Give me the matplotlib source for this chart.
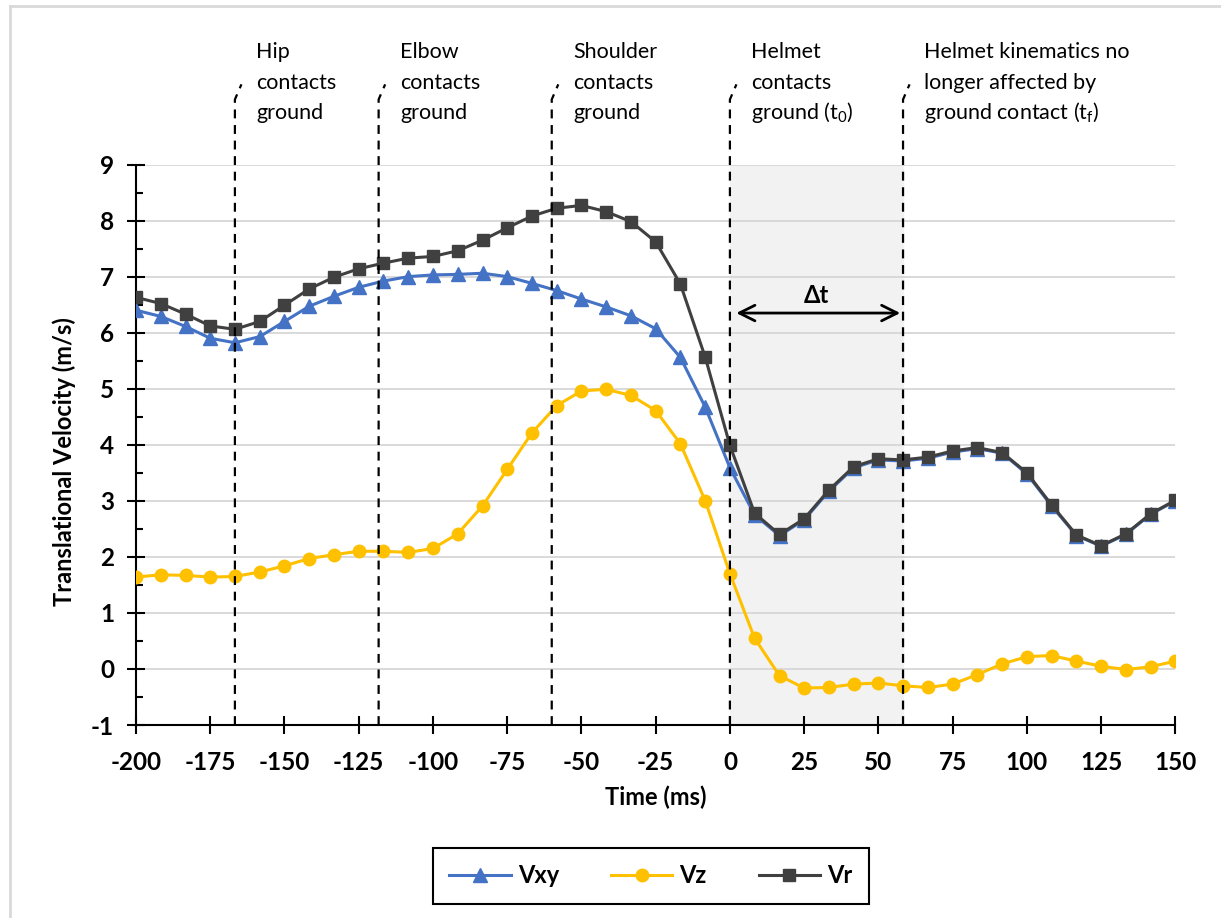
import matplotlib.pyplot as plt
from matplotlib.lines import Line2D

plt.rcParams['font.family'] = ['Lato', 'DejaVu Sans']
plt.rcParams['axes.unicode_minus'] = False
plt.rcParams['mathtext.fontset'] = 'custom'
plt.rcParams['mathtext.rm'] = 'Lato'

# time (ms), sampled at 120 Hz
time_ms = [-200, -191.7, -183.3, -175, -166.7, -158.3, -150, -141.7, -133.3, -125,
           -116.7, -108.3, -100, -91.7, -83.3, -75, -66.7, -58.3, -50, -41.7,
           -33.3, -25, -16.7, -8.3, 0, 8.3, 16.7, 25, 33.3, 41.7,
           50, 58.3, 66.7, 75, 83.3, 91.7, 100, 108.3, 116.7, 125,
           133.3, 141.7, 150]

vxy = [6.40, 6.29, 6.11, 5.90, 5.82, 5.93, 6.20, 6.47, 6.65, 6.81,
       6.92, 7.00, 7.03, 7.04, 7.06, 7.00, 6.88, 6.75, 6.60, 6.46,
       6.30, 6.07, 5.56, 4.67, 3.59, 2.75, 2.38, 2.66, 3.17, 3.59,
       3.73, 3.71, 3.76, 3.87, 3.93, 3.85, 3.48, 2.91, 2.38, 2.19,
       2.40, 2.76, 3.00]

vz = [1.64, 1.68, 1.67, 1.64, 1.65, 1.73, 1.84, 1.97, 2.04, 2.10,
      2.10, 2.08, 2.15, 2.41, 2.91, 3.56, 4.21, 4.70, 4.96, 4.99,
      4.88, 4.61, 4.02, 3.00, 1.70, 0.55, -0.12, -0.34, -0.33, -0.27,
      -0.25, -0.30, -0.33, -0.27, -0.10, 0.09, 0.22, 0.24, 0.14, 0.05,
      -0.01, 0.04, 0.14]

vr = [6.63, 6.52, 6.33, 6.12, 6.06, 6.20, 6.49, 6.78, 6.99, 7.14,
      7.24, 7.33, 7.36, 7.46, 7.65, 7.87, 8.08, 8.22, 8.27, 8.16,
      7.98, 7.62, 6.87, 5.56, 3.99, 2.78, 2.40, 2.68, 3.19, 3.61,
      3.75, 3.73, 3.78, 3.89, 3.95, 3.86, 3.50, 2.93, 2.39, 2.20,
      2.41, 2.77, 3.01]

x_ticks = [-200, -175, -150, -125, -100, -75, -50, -25, 0, 25, 50, 75, 100, 125, 150]
y_ticks = [-1, 0, 1, 2, 3, 4, 5, 6, 7, 8, 9]

# events (ms) and their labels
event_times = [-166.7, -118.3, -60, 0, 58.3]
event_labels = [
    ['Hip', 'contacts', 'ground'],
    ['Elbow', 'contacts', 'ground'],
    ['Shoulder', 'contacts', 'ground'],
    ['Helmet', 'contacts', 'ground (t$_\\mathrm{0}$)'],
    ['Helmet kinematics no', 'longer affected by', 'ground contact (t$_\\mathrm{f}$)'],
]

fig = plt.figure(figsize=(12.21, 9.18), dpi=100)
ax = fig.add_axes([0.1114, 0.2102, 0.8512, 0.6106])

# light frame around the chart (only top/left visible in the crop)
fig.add_artist(Line2D([10 / 1221, 10 / 1221], [0, 1 - 6 / 918], color='#d9d9d9', lw=2, transform=fig.transFigure))
fig.add_artist(Line2D([10 / 1221, 1], [1 - 6 / 918, 1 - 6 / 918], color='#d9d9d9', lw=2, transform=fig.transFigure))

ax.axvspan(event_times[3], event_times[4], color='#f2f2f2', zorder=0)
ax.yaxis.grid(True, color='#d9d9d9', lw=1.4, zorder=1)
ax.set_axisbelow(True)

ax.plot(time_ms, vxy, color='#4472C4', lw=2.2, marker='^', ms=10, label='Vxy', zorder=3)
ax.plot(time_ms, vz, color='#FFC000', lw=2.2, marker='o', ms=9, label='Vz', zorder=3)
ax.plot(time_ms, vr, color='#404040', lw=2.2, marker='s', ms=9, label='Vr', zorder=4)

ax.set_xlim(-200, 150)
ax.set_ylim(-1, 9)
ax.set_xticks(x_ticks, [str(v) for v in x_ticks], fontweight='bold')
ax.set_yticks(y_ticks, [str(v) for v in y_ticks], fontweight='bold')
ax.set_yticks([v + 0.5 for v in y_ticks[:-1]], minor=True)

for s in ['top', 'right']:
    ax.spines[s].set_visible(False)
for s in ['left', 'bottom']:
    ax.spines[s].set_linewidth(1.5)
    ax.spines[s].set_color('black')

ax.tick_params(axis='both', which='major', direction='inout', length=13.5, width=1.5,
               labelsize=17.5, pad=9)
ax.tick_params(axis='x', which='major', pad=12)
ax.tick_params(axis='y', which='minor', direction='in', length=5, width=1.5)

ax.set_xlabel('Time (ms)', fontsize=17, fontweight='bold', labelpad=8)
ax.set_ylabel('Translational Velocity (m/s)', fontsize=17, fontweight='bold')
ax.yaxis.set_label_coords(-0.058, 0.47)

# dashed event lines with leaders up to the labels
for t, lines in zip(event_times, event_labels):
    ax.plot([t, t, t + 2.2], [-1, 10.16, 10.43], color='black', lw=1.6,
            ls=(0, (4, 3)), clip_on=False, zorder=5)
    for i, txt in enumerate(lines):
        ax.text(t + 7.2, 11.0 - 0.54 * i, txt, fontsize=15.5, ha='left', va='center')

# delta t arrow
ax.annotate('', xy=(event_times[3] + 1.2, 6.35), xytext=(event_times[4], 6.35),
            arrowprops=dict(arrowstyle='<->', lw=2, color='black', mutation_scale=28))
ax.text(29, 6.66, 'Δt', fontsize=17, fontweight='bold', ha='center', va='center')

leg = fig.legend(loc='center', bbox_to_anchor=(0.533, 0.0458), ncol=3, frameon=True,
                 fancybox=False, edgecolor='black', framealpha=1,
                 prop={'size': 17, 'weight': 'bold'}, handlelength=2.6,
                 columnspacing=2.2, borderpad=0.7, handletextpad=0.3)
leg.get_frame().set_linewidth(1.5)

fig.savefig('out.png', dpi=100)
